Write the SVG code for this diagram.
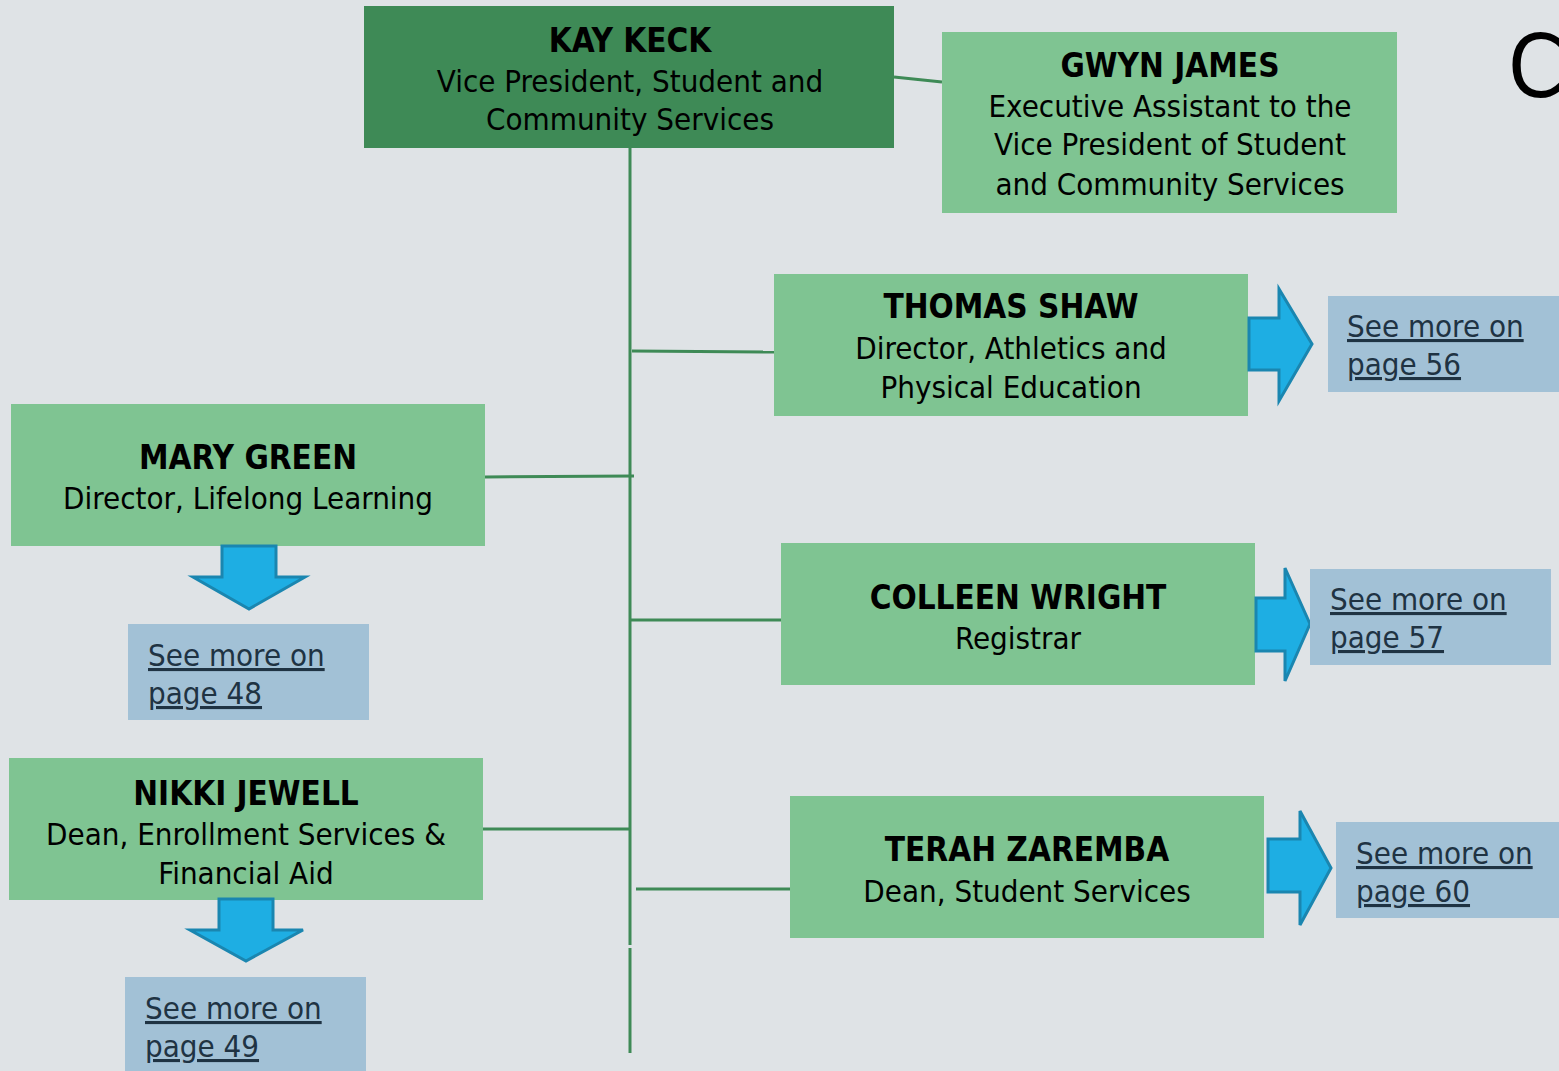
<svg xmlns="http://www.w3.org/2000/svg" width="1559" height="1071" viewBox="0 0 1559 1071">
<style>
.t{font-family:"DejaVu Sans","Liberation Sans",sans-serif;font-stretch:condensed;font-size:31px;fill:#000;text-anchor:middle}
.b{font-weight:bold;font-size:33px}
.dark{fill:#3e8a56}
.light{fill:#7fc492}
.link{fill:#a2c1d6}
.lt{font-family:"DejaVu Sans","Liberation Sans",sans-serif;font-stretch:condensed;font-size:31px;fill:#1f3343;text-decoration:underline}
.arr{fill:#1eaee3;stroke:#1a86b0;stroke-width:3}
.con{stroke:#3e8a56;stroke-width:3;fill:none}
</style>
<rect width="1559" height="1071" fill="#dfe3e6"/>
<g id="connectors">
<line class="con" x1="894" y1="77" x2="942" y2="82"/>
<line class="con" x1="630" y1="148" x2="630" y2="945"/>
<line class="con" x1="630" y1="948" x2="630" y2="1053"/>
<line class="con" x1="632" y1="351" x2="779" y2="352"/>
<line class="con" x1="485" y1="477" x2="634" y2="476"/>
<line class="con" x1="630" y1="620" x2="786" y2="620"/>
<line class="con" x1="483" y1="829" x2="630" y2="829"/>
<line class="con" x1="636" y1="889" x2="792" y2="889"/>
</g>
<g id="kay">
<rect class="dark" x="364" y="6" width="530" height="142"/>
<text class="t b" x="630" y="52">KAY KECK</text>
<text class="t" x="630" y="92">Vice President, Student and</text>
<text class="t" x="630" y="130">Community Services</text>
</g>
<g id="gwyn">
<rect class="light" x="942" y="32" width="455" height="181"/>
<text class="t b" x="1170" y="77">GWYN JAMES</text>
<text class="t" x="1170" y="117">Executive Assistant to the</text>
<text class="t" x="1170" y="155">Vice President of Student</text>
<text class="t" x="1170" y="195">and Community Services</text>
</g>
<g id="thomas">
<rect class="light" x="774" y="274" width="474" height="142"/>
<text class="t b" x="1011" y="318">THOMAS SHAW</text>
<text class="t" x="1011" y="359">Director, Athletics and</text>
<text class="t" x="1011" y="398">Physical Education</text>
</g>
<g id="arrow56">
<polygon class="arr" points="1249,318 1279,318 1279,289 1312,344 1279,401 1279,370 1249,370"/>
</g>
<g id="link56">
<rect class="link" x="1328" y="296" width="231" height="96"/>
<text class="lt" x="1347" y="337">See more on</text>
<text class="lt" x="1347" y="375">page 56</text>
</g>
<g id="mary">
<rect class="light" x="11" y="404" width="474" height="142"/>
<text class="t b" x="248" y="469">MARY GREEN</text>
<text class="t" x="248" y="509">Director, Lifelong Learning</text>
</g>
<g id="arrow48">
<polygon class="arr" points="222,546 276,546 276,577 305,577 249,609 193,577 222,577"/>
</g>
<g id="link48">
<rect class="link" x="128" y="624" width="241" height="96"/>
<text class="lt" x="148" y="666">See more on</text>
<text class="lt" x="148" y="704">page 48</text>
</g>
<g id="colleen">
<rect class="light" x="781" y="543" width="474" height="142"/>
<text class="t b" x="1018" y="609">COLLEEN WRIGHT</text>
<text class="t" x="1018" y="649">Registrar</text>
</g>
<g id="arrow57">
<polygon class="arr" points="1256,598 1285,598 1285,568 1310,624 1285,681 1285,651 1256,651"/>
</g>
<g id="link57">
<rect class="link" x="1310" y="569" width="241" height="96"/>
<text class="lt" x="1330" y="610">See more on</text>
<text class="lt" x="1330" y="648">page 57</text>
</g>
<g id="nikki">
<rect class="light" x="9" y="758" width="474" height="142"/>
<text class="t b" x="246" y="805">NIKKI JEWELL</text>
<text class="t" x="246" y="845">Dean, Enrollment Services &amp;</text>
<text class="t" x="246" y="884">Financial Aid</text>
</g>
<g id="arrow49">
<polygon class="arr" points="219,899 273,899 273,930 303,930 246,961 190,930 219,930"/>
</g>
<g id="link49">
<rect class="link" x="125" y="977" width="241" height="94"/>
<text class="lt" x="145" y="1019">See more on</text>
<text class="lt" x="145" y="1057">page 49</text>
</g>
<g id="terah">
<rect class="light" x="790" y="796" width="474" height="142"/>
<text class="t b" x="1027" y="861">TERAH ZAREMBA</text>
<text class="t" x="1027" y="902">Dean, Student Services</text>
</g>
<g id="arrow60">
<polygon class="arr" points="1268,839 1300,839 1300,811 1331,868 1300,925 1300,892 1268,892"/>
</g>
<g id="link60">
<rect class="link" x="1336" y="822" width="223" height="96"/>
<text class="lt" x="1356" y="864">See more on</text>
<text class="lt" x="1356" y="902">page 60</text>
</g>
<text x="1508" y="97" style="font-family:'DejaVu Sans','Liberation Sans',sans-serif;font-stretch:condensed;font-size:88px;fill:#000">C</text>
</svg>
